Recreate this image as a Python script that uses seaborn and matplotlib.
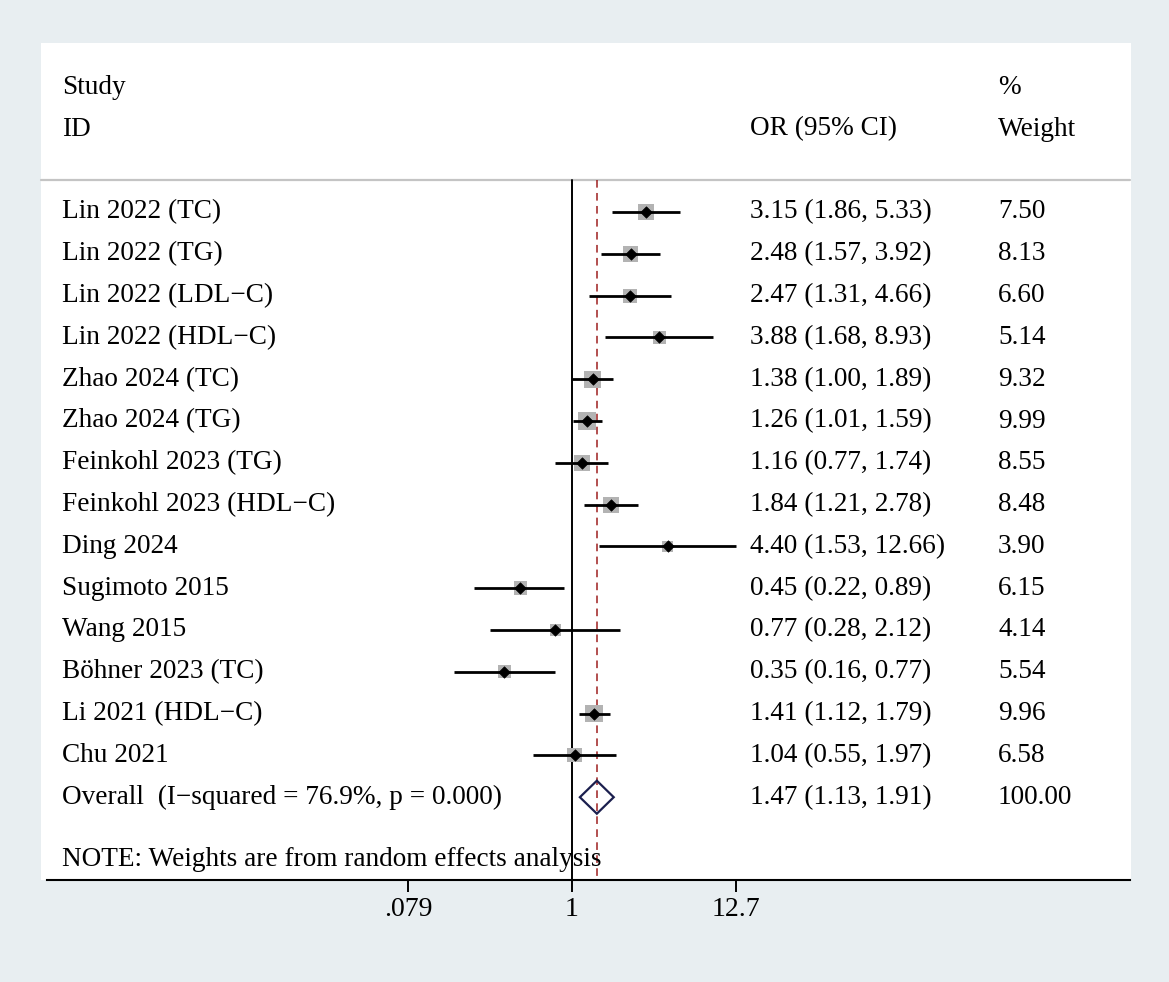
import numpy as np
import pandas as pd
import seaborn as sns
import matplotlib.pyplot as plt
import matplotlib.transforms as mtransforms
from matplotlib.patches import Rectangle, Polygon

"""
Data read from the forest plot
"""
studies = ["Lin 2022 (TC)", "Lin 2022 (TG)", "Lin 2022 (LDL\u2212C)", "Lin 2022 (HDL\u2212C)",
           "Zhao 2024 (TC)", "Zhao 2024 (TG)", "Feinkohl 2023 (TG)", "Feinkohl 2023 (HDL\u2212C)",
           "Ding 2024", "Sugimoto 2015", "Wang 2015", "B\u00f6hner 2023 (TC)",
           "Li 2021 (HDL\u2212C)", "Chu 2021"]
odds = [3.15, 2.48, 2.47, 3.88, 1.38, 1.26, 1.16, 1.84, 4.40, 0.45, 0.77, 0.35, 1.41, 1.04]
ci_low = [1.86, 1.57, 1.31, 1.68, 1.00, 1.01, 0.77, 1.21, 1.53, 0.22, 0.28, 0.16, 1.12, 0.55]
ci_high = [5.33, 3.92, 4.66, 8.93, 1.89, 1.59, 1.74, 2.78, 12.66, 0.89, 2.12, 0.77, 1.79, 1.97]
weights = [7.50, 8.13, 6.60, 5.14, 9.32, 9.99, 8.55, 8.48, 3.90, 6.15, 4.14, 5.54, 9.96, 6.58]

overall_label = "Overall  (I\u2212squared = 76.9%, p = 0.000)"
overall_or = 1.47
overall_low = 1.13
overall_high = 1.91
overall_weight = 100.00

tick_values = [0.079, 1, 12.7]
tick_labels = [".079", "1", "12.7"]

df = pd.DataFrame({"study": studies, "or": odds, "lo": ci_low, "hi": ci_high, "w": weights})
df["row"] = np.arange(len(df))
n = len(df)

"""
Figure setup
"""
W, H = 1169, 982
bg = "#e8eef1"
sns.set_theme(style="white")
plt.rcParams["font.family"] = ["Liberation Serif", "DejaVu Serif"]
plt.rcParams["text.color"] = "black"

fig = plt.figure(figsize=(W / 100, H / 100), dpi=100, facecolor=bg)

# white panel
panel = Rectangle((41 / W, (H - 880) / H), 1090 / W, 837 / H,
                  transform=fig.transFigure, facecolor="white",
                  edgecolor="none", zorder=-10)
fig.patches.append(panel)

ax_l, ax_r, ax_t, ax_b = 47, 1130, 43, 880
ax = fig.add_axes([ax_l / W, (H - ax_b) / H, (ax_r - ax_l) / W, (ax_b - ax_t) / H])
ax.set_facecolor("none")
ax.set_zorder(5)

# log x axis: 1 at pixel 572, 64.5 px per log unit
px_per = 64.5
ax.set_xscale("log")
ax.set_xlim(np.exp((ax_l - 572) / px_per), np.exp((ax_r - 572) / px_per))

row0, step = 212, 41.8
ax.set_ylim((ax_b - row0) / step, (ax_t - row0) / step)

fs = 19.6
fs_tick = 20
trans = mtransforms.blended_transform_factory(ax.transAxes, ax.transData)
x_lab = (62 - ax_l) / (ax_r - ax_l)
x_or = (750 - ax_l) / (ax_r - ax_l)
x_w = (998 - ax_l) / (ax_r - ax_l)

"""
Header
"""
y_study = (88 - row0) / step
y_id = (129 - row0) / step
y_hline = (180 - row0) / step
ax.text(x_lab, y_study, "Study", transform=trans, fontsize=fs, va="center")
ax.text(x_lab, y_id, "ID", transform=trans, fontsize=fs, va="center")
ax.text(x_or, y_id, "OR (95% CI)", transform=trans, fontsize=fs, va="center")
ax.text(x_w, y_study, "%", transform=trans, fontsize=fs, va="center")
ax.text(x_w, y_id, "Weight", transform=trans, fontsize=fs, va="center")
ax.plot([(41 - ax_l) / (ax_r - ax_l), 1], [y_hline, y_hline], transform=trans,
        color="#c4c4c4", lw=1.6, clip_on=False)

"""
Reference lines
"""
y_bottom = ax.get_ylim()[0]
ax.plot([1, 1], [y_hline, y_bottom], color="black", lw=1.4, zorder=2)
ax.plot([overall_or, overall_or], [y_hline, y_bottom], color="#9e1f1f", lw=1.1,
        linestyle=(0, (5, 3.5)), zorder=2)

"""
Studies
"""
ax.hlines(df["row"], df["lo"], df["hi"], color="black", lw=2.0, zorder=3)
ax.scatter(df["or"], df["row"], s=15.7 * df["w"], marker="s", color="#b3b3b3",
           edgecolor="none", zorder=2.5)
sns.scatterplot(data=df, x="or", y="row", marker="D", s=34, color="black",
                edgecolor="black", linewidth=0.5, ax=ax, zorder=4, legend=False)

for _, r in df.iterrows():
    ax.text(x_lab, r["row"], r["study"], transform=trans, fontsize=fs, va="center")
    ax.text(x_or, r["row"], f"{r['or']:.2f} ({r['lo']:.2f}, {r['hi']:.2f})",
            transform=trans, fontsize=fs, va="center")
    ax.text(x_w, r["row"], f"{r['w']:.2f}", transform=trans, fontsize=fs, va="center")

"""
Overall
"""
h = 16.5 / step
ax.add_patch(Polygon([(overall_low, n), (overall_or, n - h), (overall_high, n),
                      (overall_or, n + h)], closed=True, facecolor="none",
                     edgecolor="#1b1f4e", lw=1.6, zorder=5))
ax.text(x_lab, n, overall_label, transform=trans, fontsize=fs, va="center")
ax.text(x_or, n, f"{overall_or:.2f} ({overall_low:.2f}, {overall_high:.2f})",
        transform=trans, fontsize=fs, va="center")
ax.text(x_w, n, f"{overall_weight:.2f}", transform=trans, fontsize=fs, va="center")

ax.text(x_lab, (860 - row0) / step, "NOTE: Weights are from random effects analysis",
        transform=trans, fontsize=fs, va="center")

"""
Axis styling
"""
for side in ["top", "left", "right"]:
    ax.spines[side].set_visible(False)
ax.spines["bottom"].set_color("black")
ax.spines["bottom"].set_linewidth(1.5)
ax.set_yticks([])
ax.set_xticks(tick_values)
ax.set_xticklabels(tick_labels, fontsize=fs_tick)
ax.xaxis.set_minor_locator(plt.NullLocator())
ax.tick_params(axis="x", direction="out", length=8.5, width=1.4, pad=4,
               colors="black", labelcolor="black", bottom=True)
ax.set_xlabel("")
ax.set_ylabel("")

fig.savefig("out.png", dpi=100, facecolor=bg)
